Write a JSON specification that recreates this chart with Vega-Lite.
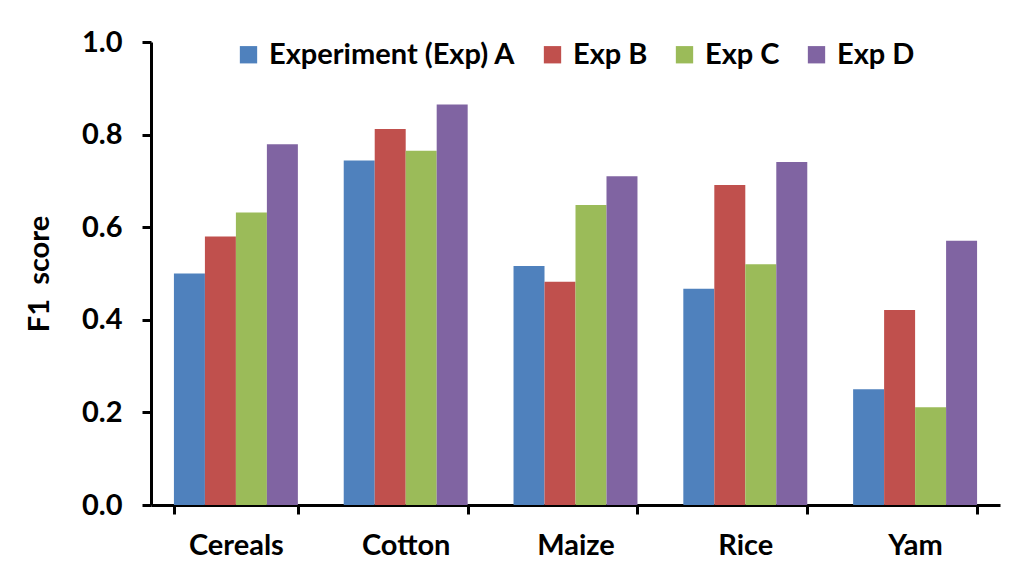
{
  "$schema": "https://vega.github.io/schema/vega-lite/v6.json",
  "autosize": {"type": "none"},
  "padding": {"left": 151, "top": 42, "right": 28, "bottom": 59},
  "width": 849,
  "height": 463,
  "background": "white",
  "config": {
    "font": "Lato",
    "view": {"stroke": null}
  },
  "data": {
    "values": [
      {"crop": "Cereals", "exp": "Experiment (Exp) A", "f1": 0.500},
      {"crop": "Cereals", "exp": "Exp B", "f1": 0.580},
      {"crop": "Cereals", "exp": "Exp C", "f1": 0.632},
      {"crop": "Cereals", "exp": "Exp D", "f1": 0.779},
      {"crop": "Cotton", "exp": "Experiment (Exp) A", "f1": 0.744},
      {"crop": "Cotton", "exp": "Exp B", "f1": 0.812},
      {"crop": "Cotton", "exp": "Exp C", "f1": 0.765},
      {"crop": "Cotton", "exp": "Exp D", "f1": 0.865},
      {"crop": "Maize", "exp": "Experiment (Exp) A", "f1": 0.516},
      {"crop": "Maize", "exp": "Exp B", "f1": 0.482},
      {"crop": "Maize", "exp": "Exp C", "f1": 0.648},
      {"crop": "Maize", "exp": "Exp D", "f1": 0.710},
      {"crop": "Rice", "exp": "Experiment (Exp) A", "f1": 0.467},
      {"crop": "Rice", "exp": "Exp B", "f1": 0.691},
      {"crop": "Rice", "exp": "Exp C", "f1": 0.520},
      {"crop": "Rice", "exp": "Exp D", "f1": 0.741},
      {"crop": "Yam", "exp": "Experiment (Exp) A", "f1": 0.250},
      {"crop": "Yam", "exp": "Exp B", "f1": 0.421},
      {"crop": "Yam", "exp": "Exp C", "f1": 0.211},
      {"crop": "Yam", "exp": "Exp D", "f1": 0.571}
    ]
  },
  "mark": {"type": "bar"},
  "encoding": {
    "x": {
      "field": "crop",
      "type": "nominal",
      "sort": ["Cereals", "Cotton", "Maize", "Rice", "Yam"],
      "scale": {"paddingInner": 0.27, "paddingOuter": 0.135},
      "axis": {
        "title": null,
        "labelAngle": 0,
        "labelFont": "Lato",
        "labelFontWeight": "bold",
        "labelFontSize": 29,
        "labelColor": "black",
        "labelPadding": 17,
        "domainColor": "black",
        "domainWidth": 3,
        "tickBand": "extent",
        "tickColor": "black",
        "tickWidth": 3,
        "tickSize": 9
      }
    },
    "xOffset": {
      "field": "exp",
      "type": "nominal",
      "sort": ["Experiment (Exp) A", "Exp B", "Exp C", "Exp D"],
      "scale": {"paddingInner": 0, "paddingOuter": 0}
    },
    "y": {
      "field": "f1",
      "type": "quantitative",
      "scale": {"domain": [0, 1], "nice": false},
      "axis": {
        "title": "F1\u00a0\u00a0score",
        "titleFont": "Lato",
        "titleFontWeight": "bold",
        "titleFontSize": 29,
        "titleColor": "black",
        "titlePadding": 27,
        "values": [0, 0.2, 0.4, 0.6, 0.8, 1.0],
        "format": ".1f",
        "grid": false,
        "labelFont": "Lato",
        "labelFontWeight": "bold",
        "labelFontSize": 29,
        "labelColor": "black",
        "labelPadding": 20,
        "domainColor": "black",
        "domainWidth": 3,
        "tickColor": "black",
        "tickWidth": 3,
        "tickSize": 9
      }
    },
    "color": {
      "field": "exp",
      "type": "nominal",
      "sort": ["Experiment (Exp) A", "Exp B", "Exp C", "Exp D"],
      "scale": {
        "domain": ["Experiment (Exp) A", "Exp B", "Exp C", "Exp D"],
        "range": ["#4F81BD", "#C0504D", "#9BBB59", "#8064A2"]
      },
      "legend": {
        "title": null,
        "orient": "none",
        "direction": "horizontal",
        "legendX": 83,
        "legendY": -2,
        "symbolType": "square",
        "symbolSize": 300,
        "symbolStrokeWidth": 0,
        "symbolOpacity": 1,
        "labelFont": "Lato",
        "labelFontWeight": "bold",
        "labelFontSize": 29,
        "labelColor": "black",
        "labelOffset": 6,
        "columnPadding": 22,
        "labelLimit": 400
      }
    }
  }
}
